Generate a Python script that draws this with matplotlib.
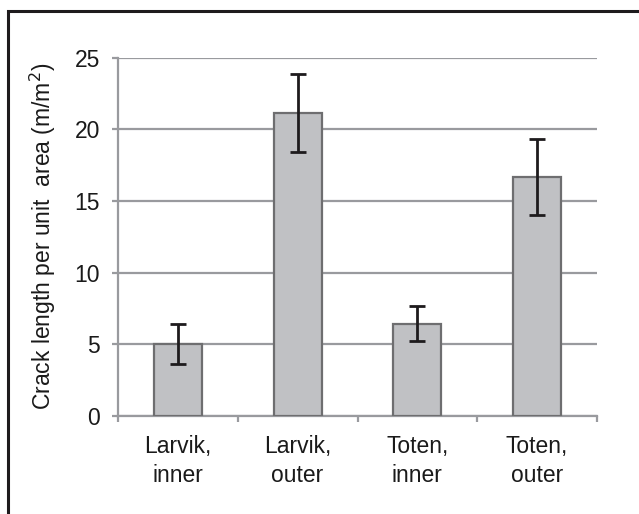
import matplotlib

matplotlib.use("Agg")
import matplotlib.pyplot as plt
from matplotlib.patches import Rectangle
import numpy as np

categories = ["Larvik,\ninner", "Larvik,\nouter", "Toten,\ninner", "Toten,\nouter"]
crack_length = [5.05, 21.15, 6.45, 16.65]
crack_err = [1.4, 2.7, 1.25, 2.65]
y_ticks = [0, 5, 10, 15, 20, 25]

plt.rcParams["font.family"] = ["Liberation Sans", "DejaVu Sans"]

GRID = "#999a9e"
TEXT = "#1a1a1a"
FS = 16.5
DPI = 100
fig = plt.figure(figsize=(639 / DPI, 514 / DPI), dpi=DPI)
ax = fig.add_axes([118 / 639, 1 - 416 / 514, (597 - 118) / 639, (416 - 57.6) / 514])

x = np.arange(len(categories))
ax.bar(x, crack_length, width=0.40, color="#c0c1c4", edgecolor="#6e6e70",
       linewidth=1.6, zorder=3)
ax.errorbar(x, crack_length, yerr=crack_err, fmt="none", ecolor="#1e1b1d",
            elinewidth=2.0, capsize=5.5, capthick=2.0, zorder=4)

ax.set_xlim(-0.5, len(categories) - 0.5)
ax.set_ylim(0, 25)
ax.set_yticks(y_ticks)
ax.yaxis.grid(True, color=GRID, linewidth=1.6, zorder=0)
ax.set_axisbelow(True)

ax.set_xticks(x)
ax.set_xticklabels(categories, fontsize=FS, color=TEXT, linespacing=1.3)
ax.set_xticks(np.arange(len(categories) + 1) - 0.5, minor=True)
ax.tick_params(axis="x", which="major", length=0, pad=14)
ax.tick_params(axis="x", which="minor", length=4, width=1.6, color=GRID, direction="out")
ax.tick_params(axis="y", length=4, width=1.6, color=GRID, labelsize=FS,
               labelcolor=TEXT, pad=9)

for side in ("top", "right"):
    ax.spines[side].set_visible(False)
for side in ("left", "bottom"):
    ax.spines[side].set_color(GRID)
    ax.spines[side].set_linewidth(1.6)

ax.set_ylabel("Crack length per unit  area (m/m$^2$)", fontsize=FS,
              color=TEXT, labelpad=12)

# outer frame, cut off on the right and at the bottom
frame = Rectangle((8 / 639, -0.1), 1.2, 1 - 11 / 514 + 0.1, transform=fig.transFigure,
                  fill=False, edgecolor="#1e1b1d", linewidth=2.2, clip_on=False)
fig.patches.append(frame)

fig.savefig("out.png", dpi=DPI)
